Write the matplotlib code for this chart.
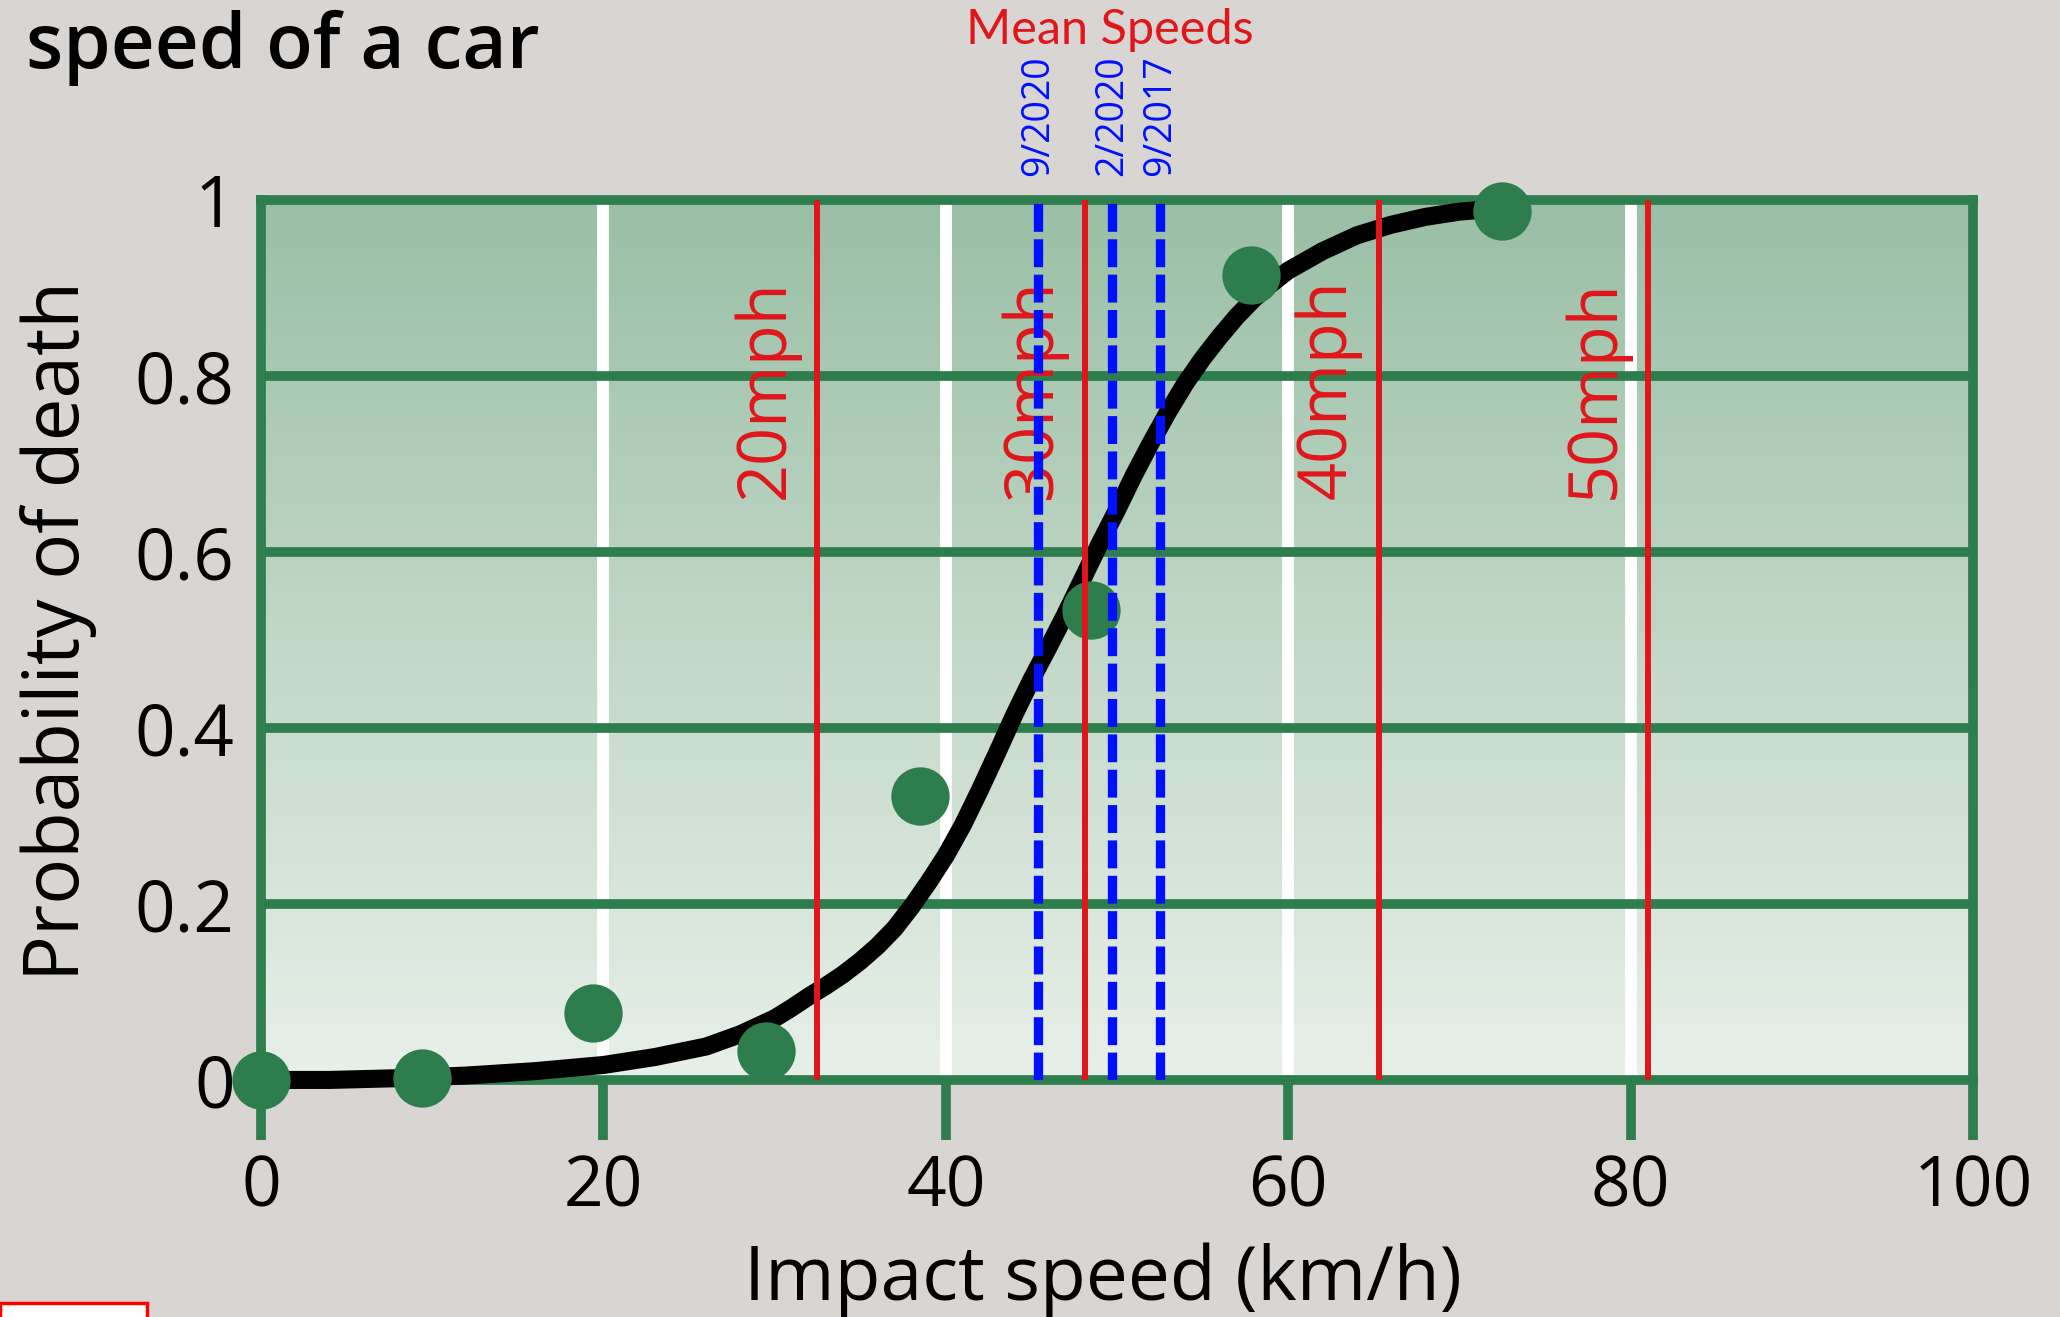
import numpy as np
import matplotlib
matplotlib.use("Agg")
import matplotlib.pyplot as plt
from matplotlib.colors import LinearSegmentedColormap
from matplotlib.patches import Rectangle

# curve (impact speed km/h -> probability of death)
curve_speed = [0, 4, 8, 12, 16, 20, 23, 26, 28, 30, 31, 32, 33, 34, 35, 36,
               37, 38, 39, 40, 41, 42, 43, 44, 45, 46, 47, 48, 49, 50, 51,
               52, 53, 54, 55, 56, 57, 58, 59, 60, 62, 64, 66, 68, 70, 72.5]
curve_prob = [0, 0, 0.002, 0.005, 0.01, 0.017, 0.026, 0.038, 0.052, 0.07,
              0.082, 0.095, 0.107, 0.12, 0.135, 0.152, 0.172, 0.197, 0.225,
              0.255, 0.29, 0.33, 0.372, 0.415, 0.455, 0.492, 0.53, 0.57,
              0.61, 0.648, 0.688, 0.725, 0.76, 0.792, 0.82, 0.845, 0.868,
              0.888, 0.905, 0.92, 0.942, 0.96, 0.972, 0.981, 0.987, 0.991]

# observed points
dots_speed = [0, 9.4, 19.4, 29.5, 38.5, 48.5, 57.8, 72.5]
dots_prob = [0, 0.002, 0.076, 0.033, 0.323, 0.534, 0.915, 0.988]

# speed limit lines
mph_labels = ["20mph", "30mph", "40mph", "50mph"]
mph_kmh = [32.5, 48.1, 65.3, 81.0]

# mean speeds
mean_labels = ["9/2020", "2/2020", "9/2017"]
mean_kmh = [45.4, 49.7, 52.5]

x_ticks = [0, 20, 40, 60, 80, 100]
y_ticks = [0, 0.2, 0.4, 0.6, 0.8, 1]
y_ticklabels = ["0", "0.2", "0.4", "0.6", "0.8", "1"]

GREEN = "#2e7d4c"
RED = "#e0161b"
BLUE = "#0010ff"

plt.rcParams['font.family'] = ['Open Sans', 'DejaVu Sans']

fig = plt.figure(figsize=(20.6, 13.17), dpi=100)
fig.patch.set_facecolor("#d8d5d3")
ax = fig.add_axes([0.1267, 0.18, 0.8311, 0.668])

# background gradient of the plot area
grad = np.linspace(0, 1, 256).reshape(-1, 1)
cmap = LinearSegmentedColormap.from_list("bg", ["#e8f0e9", "#9abfa5"])
ax.imshow(grad, extent=[0, 100, 0, 1], aspect="auto", origin="lower",
          cmap=cmap, zorder=0)

# white vertical grid, green horizontal grid
for xv in x_ticks[1:-1]:
    ax.axvline(xv, color="white", lw=8.5, zorder=1)
for yv in y_ticks[1:-1]:
    ax.axhline(yv, color=GREEN, lw=7, zorder=1.2)

ax.plot(curve_speed, curve_prob, color="black", lw=13,
        solid_capstyle="round", solid_joinstyle="round", zorder=3,
        clip_on=False)
ax.plot(dots_speed, dots_prob, "o", color=GREEN, ms=42, mec="none",
        zorder=4, clip_on=False)

for lab, xv in zip(mph_labels, mph_kmh):
    ax.vlines(xv, 0, 1, color=RED, lw=4.3, zorder=4.5)
    ax.text(xv - 3.0, 0.785, lab, rotation=90, color=RED, fontsize=48,
            ha="center", va="center", zorder=4.2)

for lab, xv in zip(mean_labels, mean_kmh):
    ax.vlines(xv, 0, 1, color=BLUE, lw=6.7, linestyles=(0, (3, 0.8)),
              zorder=5)
    ax.text(xv, 1.028, lab, rotation=90, color=BLUE, fontsize=27,
            ha="center", va="bottom", clip_on=False)

ax.text(49.6, 1.193, "Mean Speeds", color=RED, fontsize=35,
        family=["Lato", "DejaVu Sans"], ha="center", va="center",
        clip_on=False)

ax.set_xlim(0, 100)
ax.set_ylim(0, 1)
ax.set_xticks(x_ticks)
ax.set_yticks(y_ticks)
ax.set_yticklabels(y_ticklabels)
ax.tick_params(axis="x", length=43, width=7, color=GREEN, pad=10,
               labelsize=50)
ax.tick_params(axis="y", length=0, pad=19, labelsize=51)
for sp in ax.spines.values():
    sp.set_color(GREEN)
    sp.set_linewidth(7)

ax.set_xlabel("Impact speed (km/h)", fontsize=54)
ax.xaxis.set_label_coords(0.492, -0.185)
ax.set_ylabel("Probability of death", fontsize=55)
ax.yaxis.set_label_coords(-0.096, 0.51)

fig.text(0.0126, 0.948, "speed of a car", fontsize=55, fontweight="semibold",
         ha="left", va="baseline")

fig.patches.append(Rectangle((0, -0.01), 0.0714, 0.0206, transform=fig.transFigure,
                             facecolor="white", edgecolor="red", lw=2.5))

fig.savefig("out.png", dpi=100, facecolor=fig.get_facecolor())
